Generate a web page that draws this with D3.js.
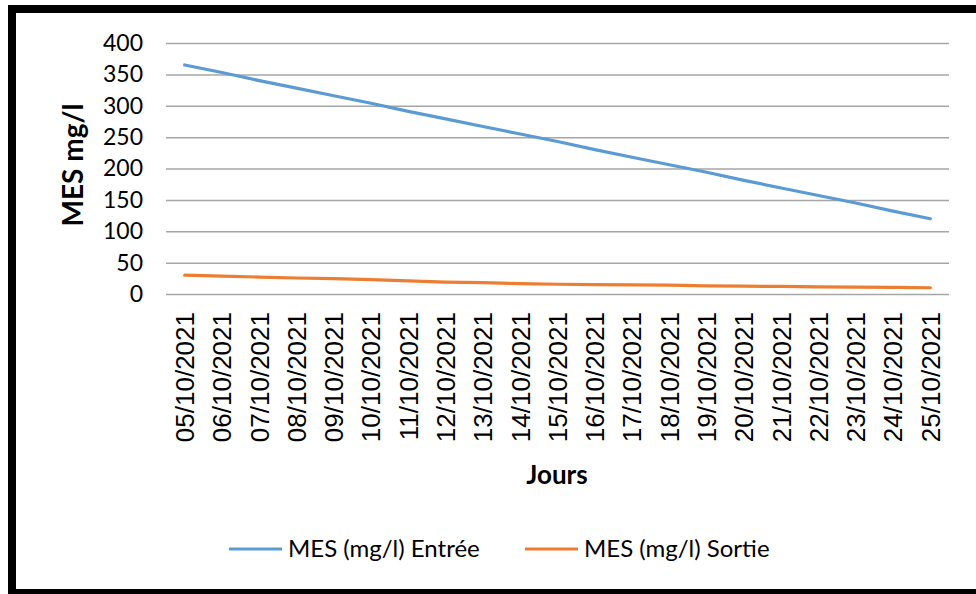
<!DOCTYPE html>
<html>
<head>
<meta charset="utf-8">
<script src="https://cdn.jsdelivr.net/npm/d3@7"></script>
<style>
  html, body { margin: 0; padding: 0; background: #fff; }
  svg { display: block; }
</style>
</head>
<body>
<svg id="chart" width="976" height="594"></svg>
<script>
const dates = ["05/10/2021","06/10/2021","07/10/2021","08/10/2021","09/10/2021","10/10/2021","11/10/2021","12/10/2021","13/10/2021","14/10/2021","15/10/2021","16/10/2021","17/10/2021","18/10/2021","19/10/2021","20/10/2021","21/10/2021","22/10/2021","23/10/2021","24/10/2021","25/10/2021"];
const entree = [365, 353, 340, 328, 316, 304, 291, 279, 267, 255, 243, 230, 218, 206, 194, 181, 169, 157, 145, 132, 120];
const sortie = [30, 28.5, 27, 25.5, 24.5, 23, 21, 19, 18, 16.5, 15.5, 15, 14.5, 14, 13, 12.5, 12, 11.5, 11, 10.5, 10];
const yTicks = [0, 50, 100, 150, 200, 250, 300, 350, 400];
const seriesNames = ["MES (mg/l) Entrée", "MES (mg/l) Sortie"];
const seriesColors = ["#5B9BD5", "#ED7D31"];

const svg = d3.select("#chart");
const calibriLike = "Lato, 'Open Sans', sans-serif";
const arialLike = "'Liberation Sans', Arial, sans-serif";

// frame
svg.append("rect").attr("x", 12).attr("y", 9).attr("width", 972).attr("height", 584)
  .attr("fill", "none").attr("stroke", "#000").attr("stroke-width", 8);

const pLeft = 166, pRight = 949, pTop = 43, pBottom = 294;
const x = d3.scaleBand().domain(dates).range([pLeft, pRight]).padding(0);
const y = d3.scaleLinear().domain([0, 400]).range([pBottom, pTop]);

// y axis + gridlines
const yAxis = svg.append("g").attr("transform", `translate(${pLeft},0)`)
  .call(d3.axisLeft(y).tickValues(yTicks).tickSize(-(pRight - pLeft)).tickPadding(23));
yAxis.select(".domain").remove();
yAxis.selectAll(".tick line").attr("stroke", "#A6A6A6").attr("stroke-width", 1.5);
yAxis.selectAll(".tick text").attr("font-family", calibriLike).attr("font-size", 23).attr("fill", "#000");

// x axis
const xAxis = svg.append("g").attr("transform", `translate(0,${pBottom})`)
  .call(d3.axisBottom(x).tickSize(0));
xAxis.select(".domain").remove();
xAxis.selectAll(".tick text")
  .attr("font-family", arialLike).attr("font-size", 26).attr("fill", "#000")
  .attr("transform", "rotate(-90)")
  .attr("text-anchor", "end")
  .attr("x", -18).attr("y", 0).attr("dy", "0.36em");

// lines
const line = d3.line().x((d, i) => x(dates[i]) + x.bandwidth() / 2).y(d => y(d));
[entree, sortie].forEach((s, k) => {
  svg.append("path").datum(s).attr("d", line)
    .attr("fill", "none").attr("stroke", seriesColors[k]).attr("stroke-width", 3.2)
    .attr("stroke-linejoin", "round").attr("stroke-linecap", "round");
});

// axis titles
svg.append("text").attr("transform", "translate(83,165) rotate(-90)")
  .attr("text-anchor", "middle").attr("font-family", calibriLike).attr("font-weight", "bold")
  .attr("font-size", 28).text("MES mg/l");
svg.append("text").attr("x", 557).attr("y", 484)
  .attr("text-anchor", "middle").attr("font-family", calibriLike).attr("font-weight", "bold")
  .attr("font-size", 26).text("Jours");

// legend
const legX = [229, 525];
seriesNames.forEach((n, k) => {
  const g = svg.append("g").attr("transform", `translate(${legX[k]},549)`);
  g.append("line").attr("x1", 0).attr("x2", 53).attr("y1", 0).attr("y2", 0)
    .attr("stroke", seriesColors[k]).attr("stroke-width", 3.2);
  g.append("text").attr("x", 59).attr("y", 0).attr("dy", "0.35em")
    .attr("font-family", calibriLike).attr("font-size", 24).attr("fill", "#000").text(n);
});
</script>
</body>
</html>
